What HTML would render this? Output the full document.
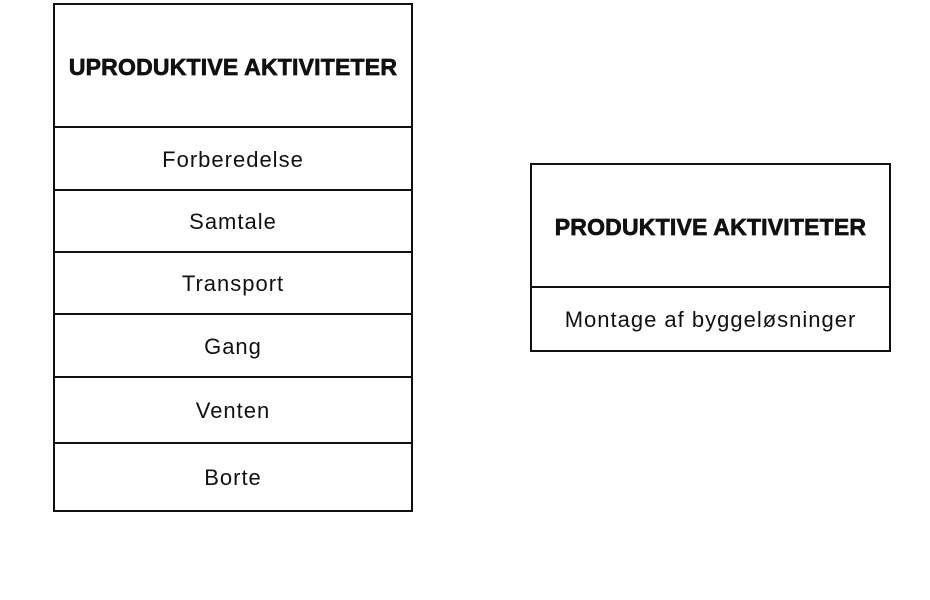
<!DOCTYPE html>
<html><head><meta charset="utf-8"><style>
body{margin:0;width:930px;height:600px;background:#fff;position:relative;overflow:hidden;font-family:"Liberation Sans",sans-serif;color:#111}
.b{position:absolute;border:2px solid #111;box-sizing:border-box}
.l{position:absolute;height:2px;background:#111}
.t{position:absolute;text-align:center;font-size:22px;letter-spacing:1px}
.h{position:absolute;text-align:center;font-weight:900;font-size:23px;letter-spacing:0.2px;-webkit-text-stroke:0.7px #111}
</style></head><body>
<div class="b" style="left:53px;top:3px;width:360px;height:509px"></div>
<div class="l" style="left:53px;width:360px;top:126px"></div>
<div class="l" style="left:53px;width:360px;top:189px"></div>
<div class="l" style="left:53px;width:360px;top:251px"></div>
<div class="l" style="left:53px;width:360px;top:313px"></div>
<div class="l" style="left:53px;width:360px;top:376px"></div>
<div class="l" style="left:53px;width:360px;top:442px"></div>
<div class="h" style="left:53px;width:360px;top:54px">UPRODUKTIVE AKTIVITETER</div>
<div class="t" style="left:53px;width:360px;top:147px">Forberedelse</div>
<div class="t" style="left:53px;width:360px;top:209px">Samtale</div>
<div class="t" style="left:53px;width:360px;top:271px">Transport</div>
<div class="t" style="left:53px;width:360px;top:334px">Gang</div>
<div class="t" style="left:53px;width:360px;top:398px">Venten</div>
<div class="t" style="left:53px;width:360px;top:465px">Borte</div>
<div class="b" style="left:530px;top:163px;width:361px;height:189px"></div>
<div class="l" style="left:530px;width:361px;top:286px"></div>
<div class="h" style="left:530px;width:361px;top:214px">PRODUKTIVE AKTIVITETER</div>
<div class="t" style="left:530px;width:361px;top:307px">Montage af byggeløsninger</div>
</body></html>
